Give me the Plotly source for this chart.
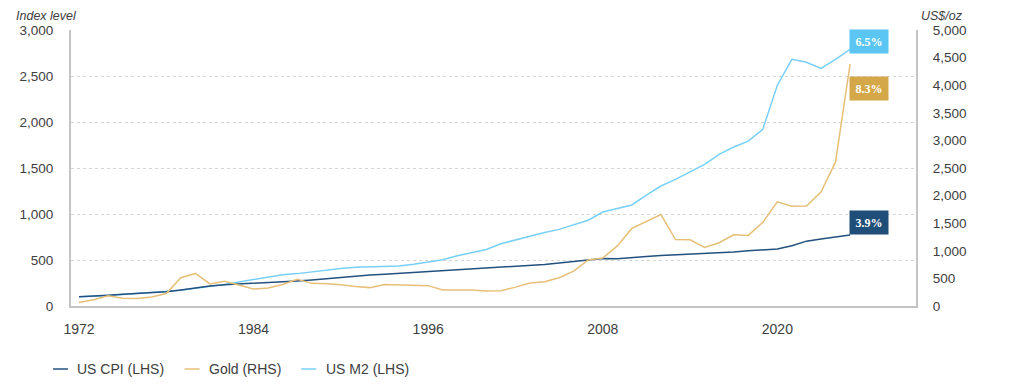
import plotly.graph_objects as go

years = [1972, 1973, 1974, 1975, 1976, 1977, 1978, 1979, 1980, 1981,
         1982, 1983, 1984, 1985, 1986, 1987, 1988, 1989, 1990, 1991,
         1992, 1993, 1994, 1995, 1996, 1997, 1998, 1999, 2000, 2001,
         2002, 2003, 2004, 2005, 2006, 2007, 2008, 2009, 2010, 2011,
         2012, 2013, 2014, 2015, 2016, 2017, 2018, 2019, 2020, 2021,
         2022, 2023, 2024, 2025]

us_cpi = [100, 106, 118, 129, 136, 145, 156, 174, 197, 217,
          231, 238, 249, 257, 262, 272, 283, 297, 313, 326,
          336, 346, 355, 365, 375, 384, 390, 399, 412, 424,
          430, 440, 452, 467, 482, 496, 515, 513, 522, 538,
          549, 557, 566, 567, 574, 586, 601, 612, 619, 655,
          705, 729, 750, 771]

gold = [65, 112, 187, 140, 135, 165, 226, 512, 590, 400,
        448, 382, 309, 327, 391, 484, 410, 401, 386, 353,
        333, 391, 383, 387, 369, 290, 288, 290, 274, 277,
        342, 417, 438, 513, 632, 834, 870, 1088, 1405, 1531,
        1657, 1204, 1199, 1060, 1146, 1291, 1279, 1515, 1888, 1806,
        1812, 2063, 2610, 4380]

us_m2 = [100, 105, 112, 125, 135, 144, 155, 171, 192, 212,
         234, 262, 288, 311, 340, 352, 373, 393, 408, 420,
         427, 433, 435, 453, 476, 503, 546, 578, 614, 677,
         720, 756, 800, 833, 882, 932, 1021, 1059, 1098, 1205,
         1304, 1376, 1457, 1540, 1648, 1728, 1792, 1921, 2400, 2681,
         2650, 2583, 2681, 2790]

series_names = ["US CPI (LHS)", "Gold (RHS)", "US M2 (LHS)"]
series_colors = ["#23507e", "#e6bf78", "#78d0f8"]

cagr_labels = ["6.5%", "8.3%", "3.9%"]
label_values = [2870, 2364, 913]
label_colors = ["#5bc6f3", "#d4a749", "#1f4e79"]

x_ticks = [1972, 1984, 1996, 2008, 2020]
left_ticks = [0, 500, 1000, 1500, 2000, 2500, 3000]
right_ticks = [0, 500, 1000, 1500, 2000, 2500, 3000, 3500, 4000, 4500, 5000]

FONT = "Liberation Sans, Arial, sans-serif"
TXT = "#404040"

# plot area in page pixels (page body has an 8px margin)
PL, PR, PT, PB = 68, 916, 30, 306


def px(x):
    return (x - PL) / (PR - PL)


def py(y):
    return (PB - y) / (PB - PT)


fig = go.Figure()
fig.add_trace(go.Scatter(x=years, y=us_m2, name=series_names[2], mode="lines",
                         line=dict(color=series_colors[2], width=1.5), yaxis="y"))
fig.add_trace(go.Scatter(x=years, y=gold, name=series_names[1], mode="lines",
                         line=dict(color=series_colors[1], width=1.5), yaxis="y2"))
fig.add_trace(go.Scatter(x=years, y=us_cpi, name=series_names[0], mode="lines",
                         line=dict(color=series_colors[0], width=1.5), yaxis="y"))

for txt, v, c in zip(cagr_labels, label_values, label_colors):
    fig.add_annotation(x=2026.3, y=v, xref="x", yref="y", text="<b>%s</b>" % txt,
                       showarrow=False, bgcolor=c, width=32, height=17, borderpad=3,
                       font=dict(family="Liberation Serif, Times New Roman, serif",
                                 size=12, color="white"))

fig.add_annotation(x=px(12), y=py(8.2), xref="paper", yref="paper", text="<i>Index level</i>",
                   showarrow=False, xanchor="left", yanchor="top", borderpad=0,
                   font=dict(family=FONT, size=12.5, color=TXT))
fig.add_annotation(x=px(920), y=py(8.2), xref="paper", yref="paper", text="<i>US$/oz</i>",
                   showarrow=False, xanchor="left", yanchor="top", borderpad=0,
                   font=dict(family=FONT, size=12.5, color=TXT))

# legend (drawn beneath the chart)
legend_line_x = [50, 182, 299]
legend_text_x = [72, 204, 322]
for name, col, lx, tx in zip(series_names, series_colors, legend_line_x, legend_text_x):
    fig.add_shape(type="line", xref="paper", yref="paper",
                  x0=px(lx), x1=px(lx + 15), y0=py(369), y1=py(369),
                  line=dict(color=col, width=1.5))
    fig.add_annotation(x=px(tx), y=py(369), xref="paper", yref="paper", text=name,
                       showarrow=False, xanchor="left", yanchor="middle",
                       font=dict(family=FONT, size=14, color=TXT))

fig.update_layout(
    width=1016, height=376,
    margin=dict(l=PL - 8, r=1024 - PR, t=PT - 8, b=384 - PB),
    paper_bgcolor="white", plot_bgcolor="white",
    font=dict(family=FONT, size=14, color=TXT),
    showlegend=False,
    xaxis=dict(range=[1971.45, 2029.53], tickvals=x_ticks, ticktext=[str(t) for t in x_ticks],
               showgrid=False, zeroline=False, showline=True, linecolor="#c4c4c4", linewidth=2,
               ticks="", ticklabelstandoff=9, tickfont=dict(size=14, color=TXT)),
    yaxis=dict(range=[0, 3000], tickvals=left_ticks, tickformat=",",
               showgrid=True, gridcolor="#d6d6d6", griddash="dot", gridwidth=1,
               zeroline=False, showline=True, linecolor="#c4c4c4", linewidth=2,
               ticks="", ticklabelstandoff=13, tickfont=dict(size=13.5, color=TXT)),
    yaxis2=dict(range=[0, 5000], tickvals=right_ticks, tickformat=",",
                overlaying="y", side="right", showgrid=False, zeroline=False,
                showline=True, linecolor="#c4c4c4", linewidth=2,
                ticks="", ticklabelstandoff=12, tickfont=dict(size=13.5, color=TXT)),
)

fig.write_html("out.html")
